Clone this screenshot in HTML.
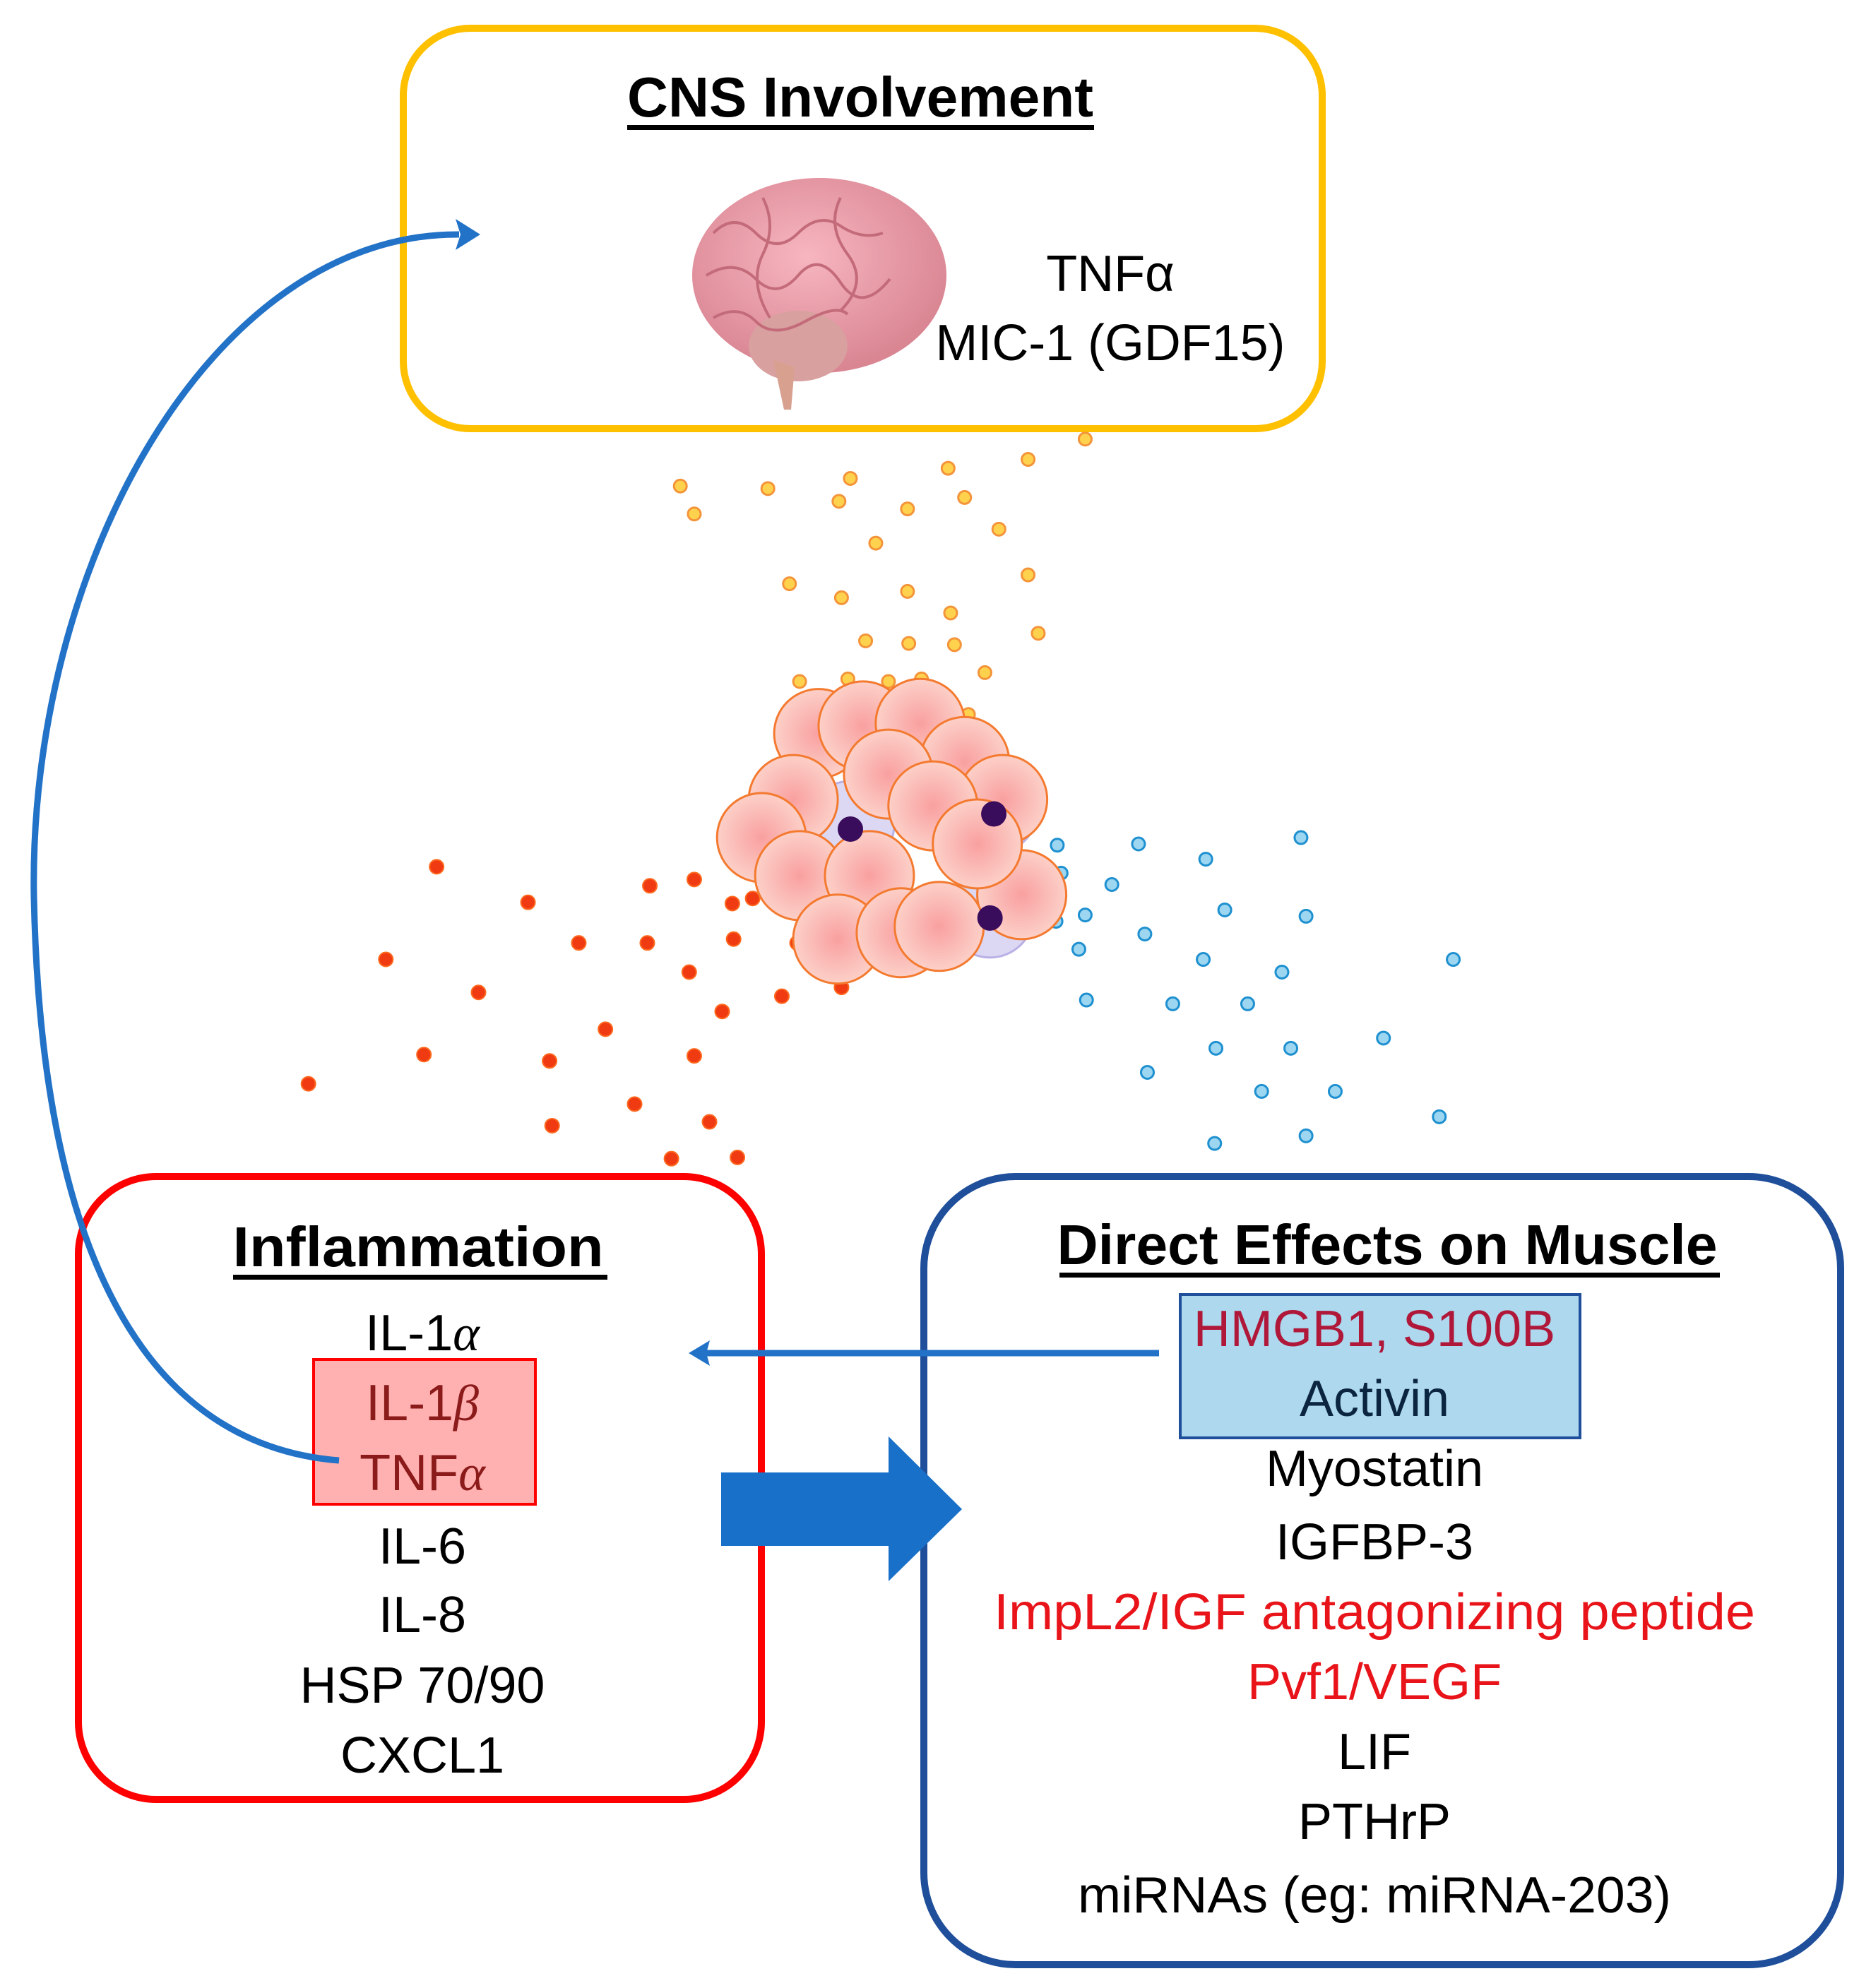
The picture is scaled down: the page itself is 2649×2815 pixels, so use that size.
<!DOCTYPE html>
<html><head><meta charset="utf-8"><style>
html,body{margin:0;padding:0;background:#fff}
svg{display:block}
text{font-family:"Liberation Sans Narrow","Liberation Sans",sans-serif}
</style></head><body>
<svg id="s" width="2649" height="2815" viewBox="0 0 2649 2815" xmlns="http://www.w3.org/2000/svg">
<defs>
<radialGradient id="cg" cx="50%" cy="50%" r="50%"><stop offset="0" stop-color="#f9a0a0"/><stop offset="1" stop-color="#fcd0c8"/></radialGradient>
<radialGradient id="br" cx="45%" cy="40%" r="60%"><stop offset="0" stop-color="#f7b6c0"/><stop offset="1" stop-color="#d98592"/></radialGradient>
</defs>
<!-- CNS box -->
<rect x="571" y="40" width="1301" height="567" rx="95" fill="none" stroke="#FFC000" stroke-width="10"/>
<text x="1218" y="165" text-anchor="middle" font-size="80" font-weight="bold" textLength="660" lengthAdjust="spacingAndGlyphs">CNS Involvement</text>
<rect x="888" y="177" width="661" height="7" fill="#000"/>
<!-- brain -->
<g>
<ellipse cx="1160" cy="390" rx="180" ry="138" fill="url(#br)"/>
<ellipse cx="1130" cy="490" rx="70" ry="50" fill="#d9a0a0"/>
<path d="M1095 510 L1110 580 L1120 580 L1125 520 Z" fill="#d7a08f"/>
<g fill="none" stroke="#c46b7a" stroke-width="4">
<path d="M1010 330 q30 -30 60 0 t60 0 t60 -10 t60 10"/>
<path d="M1000 390 q40 -25 70 5 t60 -5 t60 10 t70 -5"/>
<path d="M1010 450 q35 -20 60 5 t70 0 t60 -10"/>
<path d="M1080 280 q20 40 0 80 t10 90"/>
<path d="M1190 280 q-20 40 10 80 t-10 80"/>
</g>
</g>
<text x="1572" y="412" text-anchor="middle" font-size="72">TNFα</text>
<text x="1572" y="510" text-anchor="middle" font-size="72" textLength="495" lengthAdjust="spacingAndGlyphs">MIC-1 (GDF15)</text>
<g id="dots"></g>
<g id="cells"></g>
<!-- Inflammation box -->
<rect x="111" y="1666" width="967" height="882" rx="110" fill="none" stroke="#FF0000" stroke-width="10"/>
<rect x="444" y="1925" width="314" height="205" fill="#FFB0B0" stroke="#FF0000" stroke-width="4"/>
<text x="592" y="1793" text-anchor="middle" font-size="80" font-weight="bold" textLength="525" lengthAdjust="spacingAndGlyphs">Inflammation</text>
<rect x="330" y="1805" width="530" height="7" fill="#000"/>
<g font-size="72" text-anchor="middle">
<text x="598" y="1912">IL-1<tspan font-style="italic" font-family="Liberation Serif">α</tspan></text>
<text x="598" y="2011" fill="#8B1A1A">IL-1<tspan font-style="italic" font-family="Liberation Serif">β</tspan></text>
<text x="598" y="2110" fill="#8B1A1A">TNF<tspan font-style="italic" font-family="Liberation Serif">α</tspan></text>
<text x="598" y="2214">IL-6</text>
<text x="598" y="2311">IL-8</text>
<text x="598" y="2411">HSP 70/90</text>
<text x="598" y="2510">CXCL1</text>
</g>
<!-- Muscle box -->
<rect x="1308" y="1666" width="1298" height="1116" rx="130" fill="none" stroke="#1F4E9A" stroke-width="10"/>
<rect x="1671" y="1833" width="566" height="203" fill="#ADD8EE" stroke="#1F4E9A" stroke-width="4"/>
<text x="1964" y="1790" text-anchor="middle" font-size="80" font-weight="bold" textLength="935" lengthAdjust="spacingAndGlyphs">Direct Effects on Muscle</text>
<rect x="1500" y="1802" width="935" height="7" fill="#000"/>
<g font-size="72" text-anchor="middle">
<text x="1946" y="1906" fill="#B0183A">HMGB1, S100B</text>
<text x="1946" y="2005" fill="#0b2440">Activin</text>
<text x="1946" y="2104">Myostatin</text>
<text x="1946" y="2208">IGFBP-3</text>
<text x="1946" y="2307" fill="#E8141A" textLength="1078" lengthAdjust="spacingAndGlyphs">ImpL2/IGF antagonizing peptide</text>
<text x="1946" y="2406" fill="#E8141A">Pvf1/VEGF</text>
<text x="1946" y="2505">LIF</text>
<text x="1946" y="2604">PTHrP</text>
<text x="1946" y="2708" textLength="840" lengthAdjust="spacingAndGlyphs">miRNAs (eg: miRNA-203)</text>
</g>
<!-- big arrow -->
<path d="M1021 2085 H1258 V2034 L1362 2137 L1258 2239 V2189 H1021 Z" fill="#1870C8"/>
<!-- thin arrow -->
<line x1="1641" y1="1916" x2="995" y2="1916" stroke="#2272C8" stroke-width="9"/>
<path d="M975 1916 L1005 1898 L1000 1916 L1005 1934 Z" fill="#2272C8"/>
<!-- curved arrow -->
<path d="M480 2068 C 250 2050, 60 1850, 48 1270 C 40 800, 300 330, 650 332" fill="none" stroke="#2272C8" stroke-width="9"/>
<path d="M680 332 L645 310 L652 332 L645 354 Z" fill="#2272C8"/>
</svg>
<script>
var S=1.797,ns="http://www.w3.org/2000/svg";
function c(g,x,y,r,f,s,w){var e=document.createElementNS(ns,"circle");e.setAttribute("cx",x);e.setAttribute("cy",y);e.setAttribute("r",r);e.setAttribute("fill",f);if(s){e.setAttribute("stroke",s);e.setAttribute("stroke-width",w);}g.appendChild(e);}
var cells=document.getElementById("cells");
var cl=[[645,578],[680,572],[725,570],[760,600],[625,630],[700,610],[790,630],[600,660],[630,690],[685,690],[805,705],[660,740],[710,735],[740,730],[735,635],[770,665]];
var purple=[[670,650],[783,638],[780,720]];
purple.forEach(function(p){c(cells,p[0]*S,p[1]*S,62,"#dcd8f4","#b8b0e6",3);});
cl.forEach(function(p){c(cells,p[0]*S,p[1]*S,63,"url(#cg)","#F47A30",3);});
purple.forEach(function(p){c(cells,p[0]*S,p[1]*S+6,18,"#3a0c5c");});
var d=document.getElementById("dots");
[[536,383],[547,405],[605,385],[670,377],[661,395],[715,401],[747,369],[760,392],[810,362],[855,346],[787,417],[690,428],[622,460],[663,471],[715,466],[749,483],[810,453],[818,499],[682,505],[716,507],[752,508],[776,530],[630,537],[668,535],[700,537],[726,535],[763,563]].forEach(function(p){c(d,p[0]*S,p[1]*S,9,"#FFD24D","#F4943A",3);});
[[344,683],[416,711],[304,756],[377,782],[456,743],[512,698],[547,693],[577,712],[593,708],[578,740],[510,743],[543,766],[334,831],[433,836],[477,811],[569,797],[616,785],[547,832],[243,854],[435,887],[500,870],[559,884],[529,913],[581,912],[612,682],[628,743],[663,778]].forEach(function(p){c(d,p[0]*S,p[1]*S,10,"#F03A12","#FF6A20",2);});
[[833,666],[897,665],[950,677],[1025,660],[802,677],[836,688],[876,697],[965,717],[1029,722],[855,721],[832,726],[902,736],[850,748],[948,756],[1010,766],[1145,756],[856,788],[924,791],[983,791],[958,826],[1017,826],[1090,818],[904,845],[994,860],[1052,860],[1134,880],[957,901],[1029,895]].forEach(function(p){c(d,p[0]*S,p[1]*S,9,"#9DD6F0","#1E90D0",3);});
</script>
</body></html>
